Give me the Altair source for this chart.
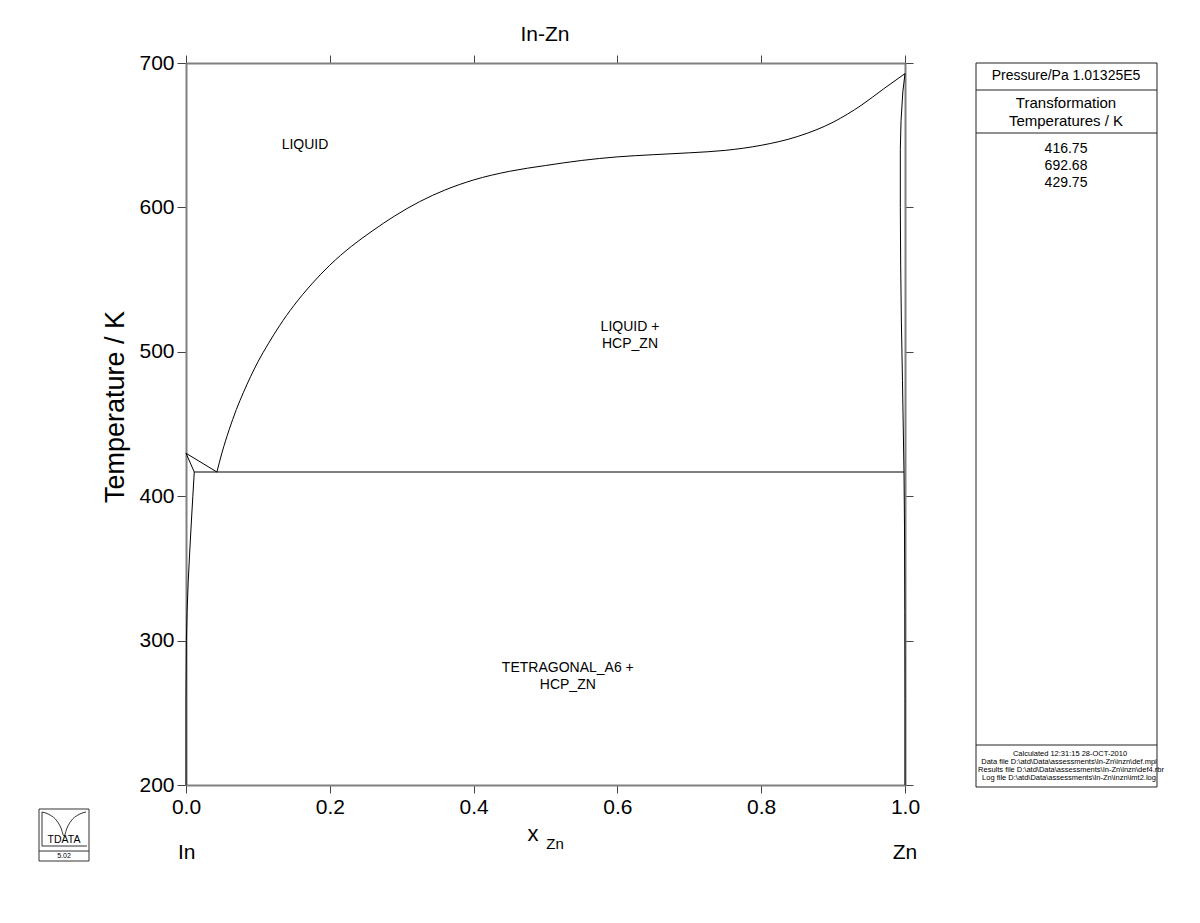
import altair as alt
import pandas as pd

FONT = "Liberation Sans"
W, H = 719, 722

# ---- phase boundaries (x_Zn, T/K) ----
liq_zn_x = [0.043, 0.05, 0.06, 0.07, 0.08, 0.09, 0.10, 0.115, 0.13, 0.15, 0.175, 0.20, 0.23, 0.26, 0.29, 0.325, 0.36, 0.40, 0.45, 0.50, 0.55, 0.60, 0.65, 0.70, 0.75, 0.80, 0.85, 0.90, 0.94, 0.97, 1.0]
liq_zn_T = [416.75, 430, 446, 460, 472, 483, 493, 506, 518, 532, 547, 560, 573, 584, 594, 604, 612, 619, 625, 629, 632.5, 635, 636.5, 637.8, 639.5, 643, 649, 659, 671, 682, 692.68]
liq_in_x = [0.0, 0.043]
liq_in_T = [429.75, 416.75]
sol_in_x = [0.0, 0.0115]
sol_in_T = [429.75, 416.75]
solv_in_x = [0.0115, 0.0095, 0.0072, 0.005, 0.003, 0.0015, 0.0005, 0.0, 0.0]
solv_in_T = [416.75, 400, 380, 360, 340, 320, 300, 260, 200]
eut_x = [0.0115, 0.9986]
eut_T = [416.75, 416.75]
sol_zn_x = [1.0, 0.997, 0.9945, 0.9935, 0.9935, 0.994, 0.995, 0.9965, 0.9975, 0.9986]
sol_zn_T = [692.68, 680, 660, 640, 600, 560, 520, 480, 450, 416.75]
solv_zn_x = [0.9986, 0.9993, 0.9998, 1.0, 1.0]
solv_zn_T = [416.75, 380, 320, 260, 200]

segments = {
    "liq_in": (liq_in_x, liq_in_T),
    "sol_in": (sol_in_x, sol_in_T),
    "solv_in": (solv_in_x, solv_in_T),
    "eut": (eut_x, eut_T),
    "sol_zn": (sol_zn_x, sol_zn_T),
    "solv_zn": (solv_zn_x, solv_zn_T),
}
rows = []
for name, (xs, ts) in segments.items():
    for i, (xv, tv) in enumerate(zip(xs, ts)):
        rows.append({"seg": name, "i": i, "x": xv, "T": tv})
lines_df = pd.DataFrame(rows)
liq_df = pd.DataFrame({"x": liq_zn_x, "T": liq_zn_T})

# phase labels
phase_text = ["LIQUID", "LIQUID +\nHCP_ZN", "TETRAGONAL_A6 +\nHCP_ZN"]
phase_x = [0.1655, 0.6175, 0.531]
phase_T = [643.2, 517.0, 281.0]
phase_df = pd.DataFrame({"text": phase_text, "x": phase_x, "T": phase_T})

x_ticks = [0.0, 0.2, 0.4, 0.6, 0.8, 1.0]
y_ticks = [200, 300, 400, 500, 600, 700]

title_text = "In-Zn"
ytitle_text = "Temperature / K"
pressure_text = "Pressure/Pa  1.01325E5"
trans_text = ["Transformation", "Temperatures / K"]
trans_values = ["416.75", "692.68", "429.75"]
footer_text = [
    "Calculated  12:31:15  28-OCT-2010",
    "Data file  D:\\atd\\Data\\assessments\\In-Zn\\inzn\\def.mpi",
    "Results file  D:\\atd\\Data\\assessments\\In-Zn\\inzn\\def4.rbr",
    "Log file  D:\\atd\\Data\\assessments\\In-Zn\\inzn\\imt2.log",
]

xscale = alt.Scale(domain=[0, 1], nice=False, zero=False)
yscale = alt.Scale(domain=[200, 700], nice=False, zero=False)

axis_common = dict(
    domainColor="#808080", domainWidth=2, tickColor="#444444", tickWidth=1,
    grid=False, labelFont=FONT, labelFontSize=21, labelColor="black", labelFlush=False,
)

lines = alt.Chart(lines_df).mark_line(color="black", strokeWidth=1).encode(
    x=alt.X("x:Q", scale=xscale,
            axis=alt.Axis(orient="bottom", values=x_ticks, format=".1f", title=None,
                          tickSize=8, labelPadding=3, **axis_common)),
    y=alt.Y("T:Q", scale=yscale,
            axis=alt.Axis(orient="left", values=y_ticks, format="d", title=None,
                          tickSize=9, labelPadding=3, **axis_common)),
    detail="seg:N",
    order="i:Q",
)

liquidus = alt.Chart(liq_df).mark_line(color="black", strokeWidth=1, interpolate="monotone").encode(
    x=alt.X("x:Q", scale=xscale, axis=None),
    y=alt.Y("T:Q", scale=yscale, axis=None),
)

frame = alt.Chart(lines_df).mark_point(opacity=0).encode(
    x=alt.X("x:Q", scale=xscale,
            axis=alt.Axis(orient="top", values=x_ticks, labels=False, title=None,
                          tickSize=8, **axis_common)),
    y=alt.Y("T:Q", scale=yscale,
            axis=alt.Axis(orient="right", values=y_ticks, labels=False, title=None,
                          tickSize=8, **axis_common)),
)

phases = alt.Chart(phase_df).mark_text(font=FONT, fontSize=14, lineBreak="\n",
                                       color="black", lineHeight=17).encode(
    x=alt.X("x:Q", scale=xscale, axis=None),
    y=alt.Y("T:Q", scale=yscale, axis=None),
    text="text:N")


def txt(s, px, py, size, align="center", angle=0, baseline="middle"):
    kw = dict(font=FONT, fontSize=size, align=align, baseline=baseline, color="black")
    if angle:
        kw["angle"] = angle
    return alt.Chart(pd.DataFrame({"t": [s]})).mark_text(**kw).encode(
        x=alt.value(px - 186), y=alt.value(py - 63), text="t:N")


def rule(x1, y1, x2, y2, color="black", w=1):
    return alt.Chart(pd.DataFrame({"a": [0]})).mark_rule(color=color, strokeWidth=w).encode(
        x=alt.value(x1 - 186), x2=alt.value(x2 - 186), y=alt.value(y1 - 63), y2=alt.value(y2 - 63))


def box(x1, y1, x2, y2, color="black", w=1):
    return alt.Chart(pd.DataFrame({"a": [0]})).mark_rect(fill=None, fillOpacity=0, stroke=color, strokeWidth=w).encode(
        x=alt.value(x1 - 186), x2=alt.value(x2 - 186), y=alt.value(y1 - 63), y2=alt.value(y2 - 63))


# logo outline (decoration, pixel positions)
logo_px = [42, 50, 57, 61, 64, 67, 71, 78, 86]
logo_py = [812, 815, 821, 828, 836, 828, 821, 815, 812]
logo_df = pd.DataFrame({"px": [p - 186 for p in logo_px], "py": [p - 63 for p in logo_py],
                        "i": list(range(len(logo_px)))})
logo_arc = alt.Chart(logo_df).mark_line(color="#333333", strokeWidth=1, interpolate="monotone").encode(
    x=alt.X("px:Q", scale=None, axis=None), y=alt.Y("py:Q", scale=None, axis=None), order="i:Q")

deco = [
    txt(title_text, 545, 35, 21),
    txt(ytitle_text, 116, 407, 27, angle=270),
    txt("x", 533, 834, 22),
    txt("Zn", 555, 844, 15),
    txt("In", 178, 853, 21, align="left"),
    txt("Zn", 905, 853, 21),
    # right panel
    box(976, 63, 1157, 787, "#222222"),
    rule(976, 90, 1157, 90, "#222222"),
    rule(976, 133, 1157, 133, "#222222"),
    rule(976, 745, 1157, 745, "#222222"),
    txt(pressure_text, 1066, 76, 14),
    txt(trans_text[0], 1066, 103, 15),
    txt(trans_text[1], 1066, 121, 15),
    txt(trans_values[0], 1066, 149, 14),
    txt(trans_values[1], 1066, 166, 14),
    txt(trans_values[2], 1066, 183, 14),
    txt(footer_text[0], 1070, 754, 7.5),
    txt(footer_text[1], 1069, 762, 7.5),
    txt(footer_text[2], 1071, 770, 7.5),
    txt(footer_text[3], 1069, 778, 7.5),
    # logo
    box(39, 809, 89, 861, "#333333"),
    rule(39, 851, 89, 851, "#333333"),
    rule(42, 812, 42, 846, "#333333"),
    rule(42, 846, 87, 846, "#333333"),
    txt("TDATA", 64, 840, 10.5),
    txt("5.02", 64, 856, 7),
]

chart = alt.layer(lines, liquidus, frame, phases, logo_arc, *deco).resolve_axis(
    x="independent", y="independent"
).properties(
    width=W, height=H,
    autosize=alt.AutoSizeParams(type="none"),
    padding={"left": 186, "top": 63, "right": 295, "bottom": 138},
).configure_view(stroke=None).configure(background="white")

chart.save("out.html", embed_options={"renderer": "svg", "actions": False})
